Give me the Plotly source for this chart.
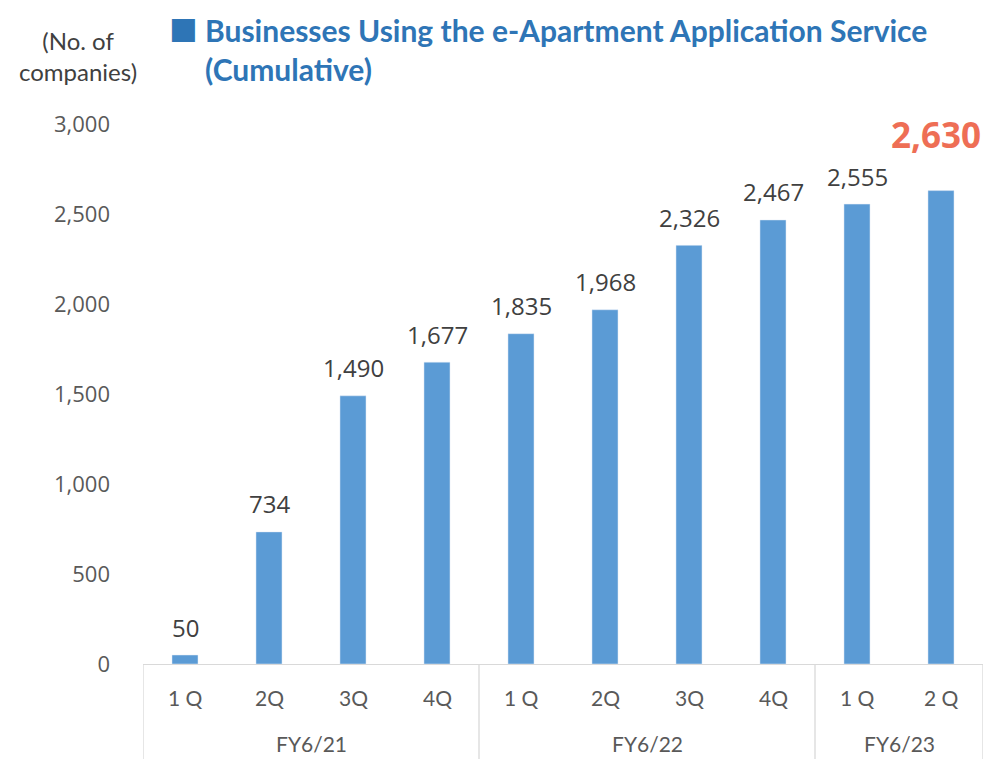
import plotly.graph_objects as go

quarters = ["1 Q", "2Q", "3Q", "4Q", "1 Q", "2Q", "3Q", "4Q", "1 Q", "2 Q"]
fiscal_years = ["FY6/21", "FY6/22", "FY6/23"]
fy_counts = [4, 4, 2]
values = [50, 734, 1490, 1677, 1835, 1968, 2326, 2467, 2555, 2630]
ytick_vals = [0, 500, 1000, 1500, 2000, 2500, 3000]

x_idx = list(range(len(values)))

BAR = "#5b9bd5"
TITLE = "#2e75b6"
HIGHLIGHT = "#ee6e55"
TXT = "#404040"
TICK = "#595959"
GRID = "#d9d9d9"

# page body adds an 8px offset; figure coords = window coords - 8
OFF = 8
W, H = 994 - 2 * OFF, 767 - 2 * OFF
PL, PR, PT, PB = 143 - OFF, 983 - OFF, 124 - OFF, 664 - OFF
PW, PH = PR - PL, PB - PT


def px(xw):
    return (xw - OFF - PL) / PW


def py(yw):
    return (PB - (yw - OFF)) / PH


fig = go.Figure()
fig.add_trace(go.Bar(
    x=x_idx, y=values, marker_color=BAR, width=0.31,
    hoverinfo="skip", showlegend=False,
))

annotations = []
for i, v in enumerate(values):
    last = i == len(values) - 1
    annotations.append(dict(
        x=i, y=v, xref="x", yref="y", text=f"<b>{v:,}</b>" if last else f"{v:,}",
        showarrow=False, yanchor="middle",
        yshift=56 if last else 28, xshift=-5 if last else 0,
        font=dict(family="Open Sans", size=35 if last else 24,
                  color=HIGHLIGHT if last else TXT),
    ))
for i, q in enumerate(quarters):
    annotations.append(dict(
        x=i, y=py(697), xref="x", yref="paper", text=q, showarrow=False,
        yanchor="middle", font=dict(family="Lato", size=21, color=TICK),
    ))
shapes = []
start = 0
bounds = [-0.5]
for fy, n in zip(fiscal_years, fy_counts):
    center = start + (n - 1) / 2
    annotations.append(dict(
        x=center, y=py(743), xref="x", yref="paper", text=fy, showarrow=False,
        yanchor="middle", font=dict(family="Lato", size=21, color=TICK),
    ))
    start += n
    bounds.append(start - 0.5)
for b in bounds:
    shapes.append(dict(type="line", xref="x", yref="paper", x0=b, x1=b,
                       y0=0, y1=-(H - PB) / PH, line=dict(color=GRID, width=1.3)))

annotations.append(dict(
    xref="paper", yref="paper", x=px(78), y=py(56),
    text="(No. of<br>companies)", showarrow=False,
    xanchor="center", yanchor="middle",
    font=dict(family="Lato", size=24, color=TXT),
))
annotations.append(dict(
    xref="paper", yref="paper", x=px(183), y=py(28),
    text="■", showarrow=False, xanchor="center", yanchor="middle",
    font=dict(family="DejaVu Sans", size=30, color=TITLE),
))
annotations.append(dict(
    xref="paper", yref="paper", x=px(203), y=py(50),
    text="<b>Businesses Using the e-Apartment Application Service<br>(Cumulative)</b>",
    showarrow=False, xanchor="left", yanchor="middle", align="left",
    font=dict(family="Lato", size=30, color=TITLE),
))

fig.update_layout(
    width=W, height=H,
    margin=dict(l=PL, r=W - PR, t=PT, b=H - PB),
    paper_bgcolor="white", plot_bgcolor="white",
    annotations=annotations, shapes=shapes,
    xaxis=dict(range=[-0.5, 9.5], showticklabels=False, showgrid=False,
               zeroline=False, showline=True, linecolor=GRID, linewidth=1.3,
               fixedrange=True),
    yaxis=dict(range=[0, 3000], tickvals=ytick_vals, tickformat=",",
               showgrid=False, zeroline=False, showline=False,
               ticklabelstandoff=32,
               tickfont=dict(family="Open Sans", size=22, color=TICK)),
)

fig.write_html("out.html")
